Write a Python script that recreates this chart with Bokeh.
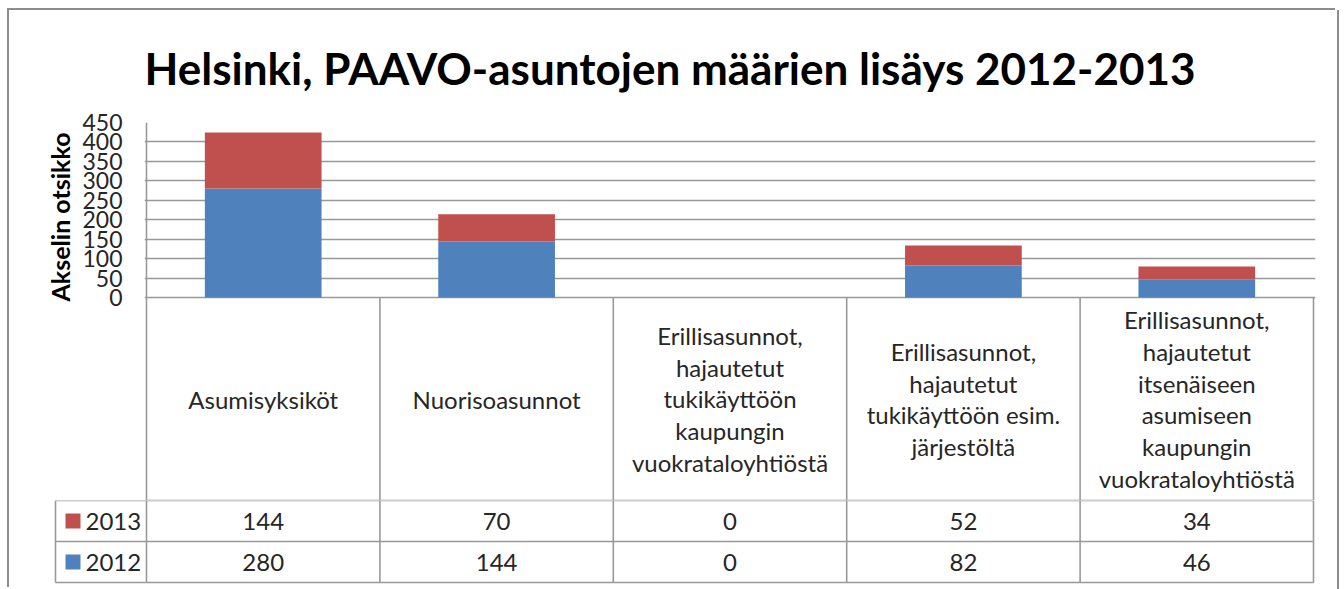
from bokeh.plotting import figure
from bokeh.models import FactorRange, Range1d, FixedTicker, ColumnDataSource, Title
from bokeh.layouts import column
from bokeh.embed import file_html
from bokeh.resources import INLINE
from bokeh.core.properties import value

# ---------------- data ----------------
categories = [
    "Asumisyksiköt",
    "Nuorisoasunnot",
    "Erillisasunnot,\nhajautetut\ntukikäyttöön\nkaupungin\nvuokrataloyhtiöstä",
    "Erillisasunnot,\nhajautetut\ntukikäyttöön esim.\njärjestöltä",
    "Erillisasunnot,\nhajautetut\nitsenäiseen\nasumiseen\nkaupungin\nvuokrataloyhtiöstä",
]
series_names = ["2012", "2013"]
values_2012 = [280, 144, 0, 82, 46]
values_2013 = [144, 70, 0, 52, 34]
y_ticks = [0, 50, 100, 150, 200, 250, 300, 350, 400, 450]
title_text = "Helsinki, PAAVO-asuntojen määrien lisäys 2012-2013"
axis_title = "Akselin otsikko"

# ---------------- style / layout ----------------
FONT = "Lato"
TXT = "#262626"
LINE = "#999999"
C2012 = "#4F81BD"
C2013 = "#C0504D"
W = 1328
PLOT_H = 175.0       # px for 0..450
HEADER_H = 203.0     # px of the category header row
ROW_H = 41.0         # px of each value row
COL_W = 1167.0 / 5   # px per category
LEG_W = 91.0         # px of the legend column
n = len(categories)

src = ColumnDataSource(dict(cat=categories, y2012=values_2012, y2013=values_2013))

# ---------------- chart + header row ----------------
y_top = y_ticks[-1]
y_bot = -HEADER_H * y_top / PLOT_H
pa = figure(width=W, height=int(112 + PLOT_H + HEADER_H),
            x_range=FactorRange(*categories, range_padding=4.0 / (n * COL_W)),
            y_range=Range1d(y_bot, y_top),
            extra_y_ranges={"tbl": Range1d(start=HEADER_H, end=-PLOT_H)},
            output_backend="svg", toolbar_location=None, x_axis_location=None,
            min_border_left=135, min_border_right=22, min_border_top=112, min_border_bottom=0)
pa.frame_align = False
pa.vbar_stack(["y2012", "y2013"], x="cat", width=0.5, color=[C2012, C2013],
              line_color=None, source=src)

# table lines of the header row (left line also runs along the value axis)
xs = list(range(n + 1))
pa.segment(x0=xs, y0=[-PLOT_H] + [0] * n, x1=xs, y1=[HEADER_H] * (n + 1),
           line_color=LINE, line_width=1.6, y_range_name="tbl")
pa.segment(x0=[0], y0=[HEADER_H], x1=[n], y1=[HEADER_H], line_color=LINE, line_width=1.6,
           y_range_name="tbl")
xc = [i + 0.5 for i in range(n)]
pa.text(x=xc, y=[HEADER_H / 2] * n, text=categories, text_font=value(FONT), text_font_size="24px",
        text_color=TXT, text_align="center", text_baseline="middle", text_line_height=1.09,
        y_range_name="tbl")

pa.title.text = title_text
pa.title.text_font = FONT
pa.title.text_font_size = "44px"
pa.title.text_font_style = "bold"
pa.title.text_color = "#000000"
pa.title.align = "left"
pa.title.offset = 0
pa.title.standoff = 57

ya = pa.yaxis[0]
ya.ticker = FixedTicker(ticks=y_ticks)
ya.major_label_text_font = FONT
ya.major_label_text_font_size = "23px"
ya.major_label_text_color = TXT
ya.major_label_standoff = 22
ya.major_tick_out = 0
ya.major_tick_in = 0
ya.major_tick_line_color = None
ya.minor_tick_line_color = None
ya.axis_line_color = None

# value-axis title: placed beside the value part of the axis, not the whole frame
pa.add_layout(Title(text=axis_title, align="right", offset=10, standoff=10,
                    text_font=FONT, text_font_size="25px", text_font_style="bold",
                    text_color="#000000"), "left")

pa.ygrid.ticker = FixedTicker(ticks=y_ticks)
pa.ygrid.grid_line_color = LINE
pa.ygrid.grid_line_width = 1.6
pa.xgrid.visible = False
pa.outline_line_color = None

# ---------------- value rows with legend column ----------------
rows_h = 2 * ROW_H
pb = figure(width=W, height=int(rows_h + 7),
            x_range=Range1d(-(LEG_W + 2) / COL_W, n + 2 / COL_W),
            y_range=Range1d(rows_h + 7, 0),
            output_backend="svg", toolbar_location=None,
            x_axis_location=None, y_axis_location=None,
            min_border_left=44, min_border_right=22, min_border_top=0, min_border_bottom=0)
pb.frame_align = False
pb.xgrid.visible = False
pb.ygrid.visible = False
pb.outline_line_color = None

leg_left = -LEG_W / COL_W
pb.segment(x0=xs, y0=[0] * (n + 1), x1=xs, y1=[rows_h] * (n + 1), line_color=LINE, line_width=1.6)
row_lines = [0, ROW_H, rows_h]
pb.segment(x0=[leg_left] * 3, y0=row_lines, x1=[n] * 3, y1=row_lines, line_color=LINE, line_width=1.6)
pb.segment(x0=[leg_left], y0=[0], x1=[leg_left], y1=[rows_h], line_color=LINE, line_width=1.6)

row_y = {"2013": ROW_H / 2, "2012": ROW_H * 1.5}
row_vals = {"2013": values_2013, "2012": values_2012}
row_col = {"2013": C2013, "2012": C2012}
for s in ["2013", "2012"]:
    pb.text(x=xc, y=[row_y[s]] * n, text=[str(v) for v in row_vals[s]], text_font=value(FONT),
            text_font_size="24px", text_color=TXT, text_align="center", text_baseline="middle")
    pb.scatter(x=[leg_left + 17.5 / COL_W], y=[row_y[s]], marker="square", size=15,
               fill_color=row_col[s], line_color=None)
    pb.text(x=[leg_left + 30 / COL_W], y=[row_y[s]], text=[s], text_font=value(FONT),
            text_font_size="24px", text_color=TXT, text_align="left", text_baseline="middle")

layout = column(pa, pb, spacing=0, margin=(10, 0, 0, 9),
                styles={"box-shadow": "-2px -2px 0 0 #8c8c8c, 2px 0 0 0 #8c8c8c"})

open("out.html", "w").write(file_html(layout, INLINE))
